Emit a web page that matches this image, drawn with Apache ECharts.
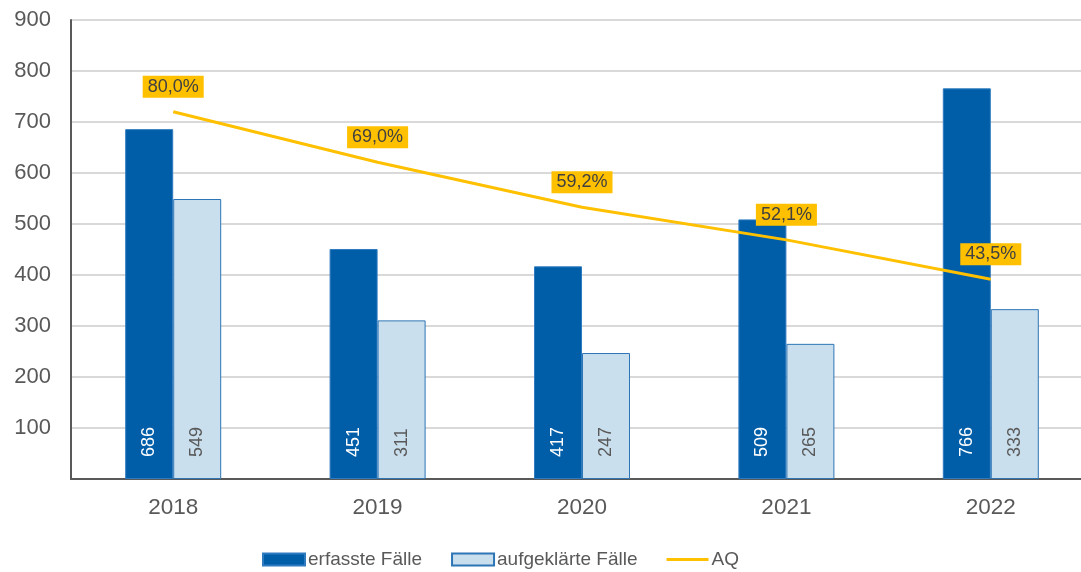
<!DOCTYPE html>
<html>
<head>
    <meta charset="utf-8">
    <title>Fälle und AQ</title>
    <script src="https://cdn.jsdelivr.net/npm/echarts@6/dist/echarts.min.js"></script>
    <style>
        html, body { margin: 0; padding: 0; background: #fff; }
        #chart { width: 1081px; height: 572px; }
    </style>
</head>
<body>
<div id="chart"></div>
<script>
    var years = ['2018', '2019', '2020', '2021', '2022'];
    var erfasst = [686, 451, 417, 509, 766];
    var aufgeklaert = [549, 311, 247, 265, 333];
    var aq = [80.0, 69.0, 59.2, 52.1, 43.5];

    var fnt = 'Liberation Sans, Arial, sans-serif';

    var option = {
        backgroundColor: '#fff',
        animation: false,
        textStyle: { fontFamily: fnt },
        grid: { left: 71, width: 1022, top: 20, height: 459, outerBoundsMode: 'none' },
        legend: {
            top: 545,
            left: 257,
            itemWidth: 42,
            itemHeight: 12,
            itemGap: 29,
            symbolKeepAspect: true,
            textStyle: { fontSize: 19, color: '#595959', fontFamily: fnt, padding: [0, 0, 0, -2] },
            data: [
                { name: 'erfasste Fälle', icon: 'rect' },
                { name: 'aufgeklärte Fälle', icon: 'rect' },
                { name: 'AQ', icon: 'path://M0,0 L42,0 L42,3 L0,3 Z' }
            ]
        },
        xAxis: {
            type: 'category',
            data: years,
            axisTick: { show: false },
            axisLine: { lineStyle: { color: '#595959', width: 2 } },
            axisLabel: { fontSize: 22.5, color: '#595959', margin: 17 }
        },
        yAxis: [
            {
                type: 'value', min: 0, max: 900, interval: 100,
                axisLine: { show: true, lineStyle: { color: '#595959', width: 2 } },
                axisTick: { show: false },
                splitLine: { lineStyle: { color: '#D9D9D9', width: 2 } },
                axisLabel: {
                    fontSize: 22, color: '#595959', margin: 20,
                    formatter: function (v) { return v === 0 ? '' : v; }
                }
            },
            {
                type: 'value', min: 0, max: 100, show: false,
                splitLine: { show: false }
            }
        ],
        series: [
            {
                name: 'erfasste Fälle',
                type: 'bar',
                data: erfasst,
                barWidth: 48,
                barGap: '0%',
                itemStyle: { color: '#005EA8', borderColor: '#2F7BBF', borderWidth: 1 },
                label: {
                    show: true, position: 'insideBottom', distance: 22, rotate: 90,
                    align: 'left', verticalAlign: 'middle',
                    fontSize: 18, color: '#fff'
                }
            },
            {
                name: 'aufgeklärte Fälle',
                type: 'bar',
                data: aufgeklaert,
                barWidth: 48,
                barGap: '0%',
                itemStyle: { color: '#C9DFEE', borderColor: '#2E75B6', borderWidth: 1 },
                label: {
                    show: true, position: 'insideBottom', distance: 22, rotate: 90,
                    align: 'left', verticalAlign: 'middle',
                    fontSize: 18, color: '#595959'
                }
            },
            {
                name: 'AQ',
                type: 'line',
                yAxisIndex: 1,
                data: aq,
                symbol: 'circle',
                symbolSize: 0,
                showSymbol: true,
                lineStyle: { color: '#FFC000', width: 3 },
                itemStyle: { color: '#FFC000' },
                label: {
                    show: true, position: 'top', distance: 14,
                    backgroundColor: '#FFC000', padding: [2, 5, 2, 5],
                    fontSize: 18, color: '#404040',
                    formatter: function (p) { return p.value.toFixed(1).replace('.', ',') + '%'; }
                },
                labelLayout: { hideOverlap: false }
            }
        ]
    };

    var chart = echarts.init(document.getElementById('chart'));
    chart.setOption(option);
</script>
</body>
</html>
